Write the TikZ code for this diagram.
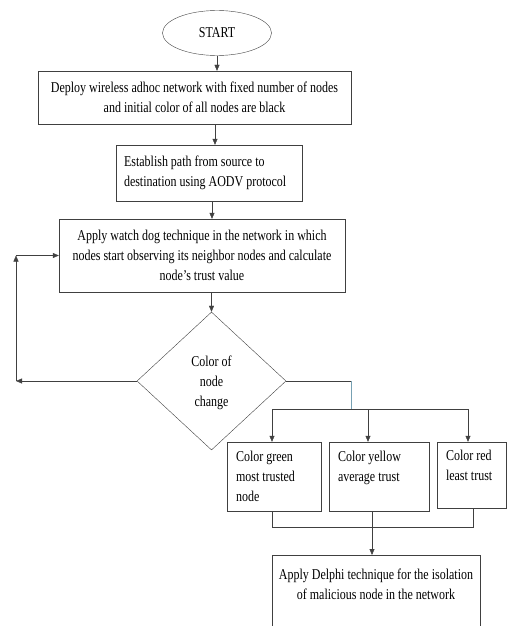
\documentclass[tikz,border=0pt]{standalone}
\usepackage{fontspec}
\setmainfont{Liberation Serif}[FakeStretch=0.8]
\usetikzlibrary{positioning,shapes.geometric,arrows.meta}

\begin{document}
\begin{tikzpicture}[x=1pt, y=-1pt, font=\fontsize{15}{20}\selectfont]
    % Define styles
    \tikzstyle{box}=[rectangle, draw=black!75, inner sep=0pt, align=center]
    \tikzstyle{arrow}=[->, draw=black!75, >={Triangle[width=5pt,length=6pt]}]
    \tikzstyle{line}=[draw=black!75]

    \useasboundingbox (0,0) rectangle (507,626);
    \clip (0,0) rectangle (507,626);

    % Main steps
    \node[ellipse, draw=black!75, minimum width=109pt, minimum height=45pt] (start) at (217,33) {START};
    \node[box, minimum width=313pt, minimum height=53pt] (deploy) at (194.5,97.5) {Deploy wireless adhoc network with fixed number of nodes\\and initial color of all nodes are black};
    \node[box, minimum width=186pt, minimum height=56pt, text width=170pt, align=flush left] (path) at (209,173) {Establish path from source to\\destination using AODV protocol};
    \node[box, minimum width=286pt, minimum height=73pt] (watch) at (202,255.5) {Apply watch dog technique in the network in which\\nodes start observing its neighbor nodes and calculate\\node’s trust value};
    \node[diamond, draw=black!75, inner sep=0pt, minimum width=149pt, minimum height=138pt, align=center, text depth=-6pt] (decide) at (211.5,381) {Color of\\node\\change};

    % Trust classes
    \node[box, minimum width=94pt, minimum height=69pt, text width=76pt, align=flush left] (green) at (274,476.5) {Color green\\most trusted\\node};
    \node[box, minimum width=100pt, minimum height=69pt, text width=82pt, align=flush left] (yellow) at (379,476.5) {Color yellow\\average trust\\\mbox{}};
    \node[box, minimum width=69pt, minimum height=66pt, text width=51pt, align=flush left] (red) at (471.5,475) {Color red\\least trust\\\mbox{}};

    % Isolation
    \node[box, minimum width=208pt, minimum height=85pt, anchor=north] (delphi) at (376,555) {Apply Delphi technique for the isolation\\of malicious node in the network\\[7pt]\mbox{}};

    % Connections
    \draw[arrow] (start) -- (start |- deploy.north);
    \draw[arrow] ([xshift=6pt]path.north |- deploy.south) -- ([xshift=6pt]path.north);
    \draw[arrow] ([xshift=3pt]path.south) -- ([xshift=3pt]path.south |- watch.north);
    \draw[arrow] (decide.north |- watch.south) -- (decide);

    % Loop back
    \coordinate (backdown) at (16,381);
    \coordinate (backup) at (16,255.5);
    \draw[arrow] (decide.west) -- (backdown);
    \draw[arrow] (backdown) -- (backup);
    \draw[arrow] (backup) -- (watch.west |- backup);

    % Split into classes
    \coordinate (turn) at (351,381);
    \coordinate (busl) at (272,409);
    \coordinate (busm) at (368,409);
    \coordinate (busr) at (468,409);
    \draw[line] (decide.east) -- (turn);
    \draw[draw=cyan!35!gray] (turn) -- (turn |- busl);
    \draw[line] (busl) -- (busr);
    \draw[arrow] (busl) -- (busl |- green.north);
    \draw[arrow] (busm) -- (busm |- yellow.north);
    \draw[arrow] (busr) -- (busr |- red.north);

    % Join classes
    \coordinate (joinl) at (272,527);
    \coordinate (joinm) at (372,527);
    \coordinate (joinr) at (473,527);
    \draw[line] (joinl |- green.south) -- (joinl) -- (joinr) -- (joinr |- red.south);
    \draw[line] (joinm |- yellow.south) -- (joinm);
    \draw[arrow] (joinm) -- (joinm |- delphi.north);
\end{tikzpicture}
\end{document}
